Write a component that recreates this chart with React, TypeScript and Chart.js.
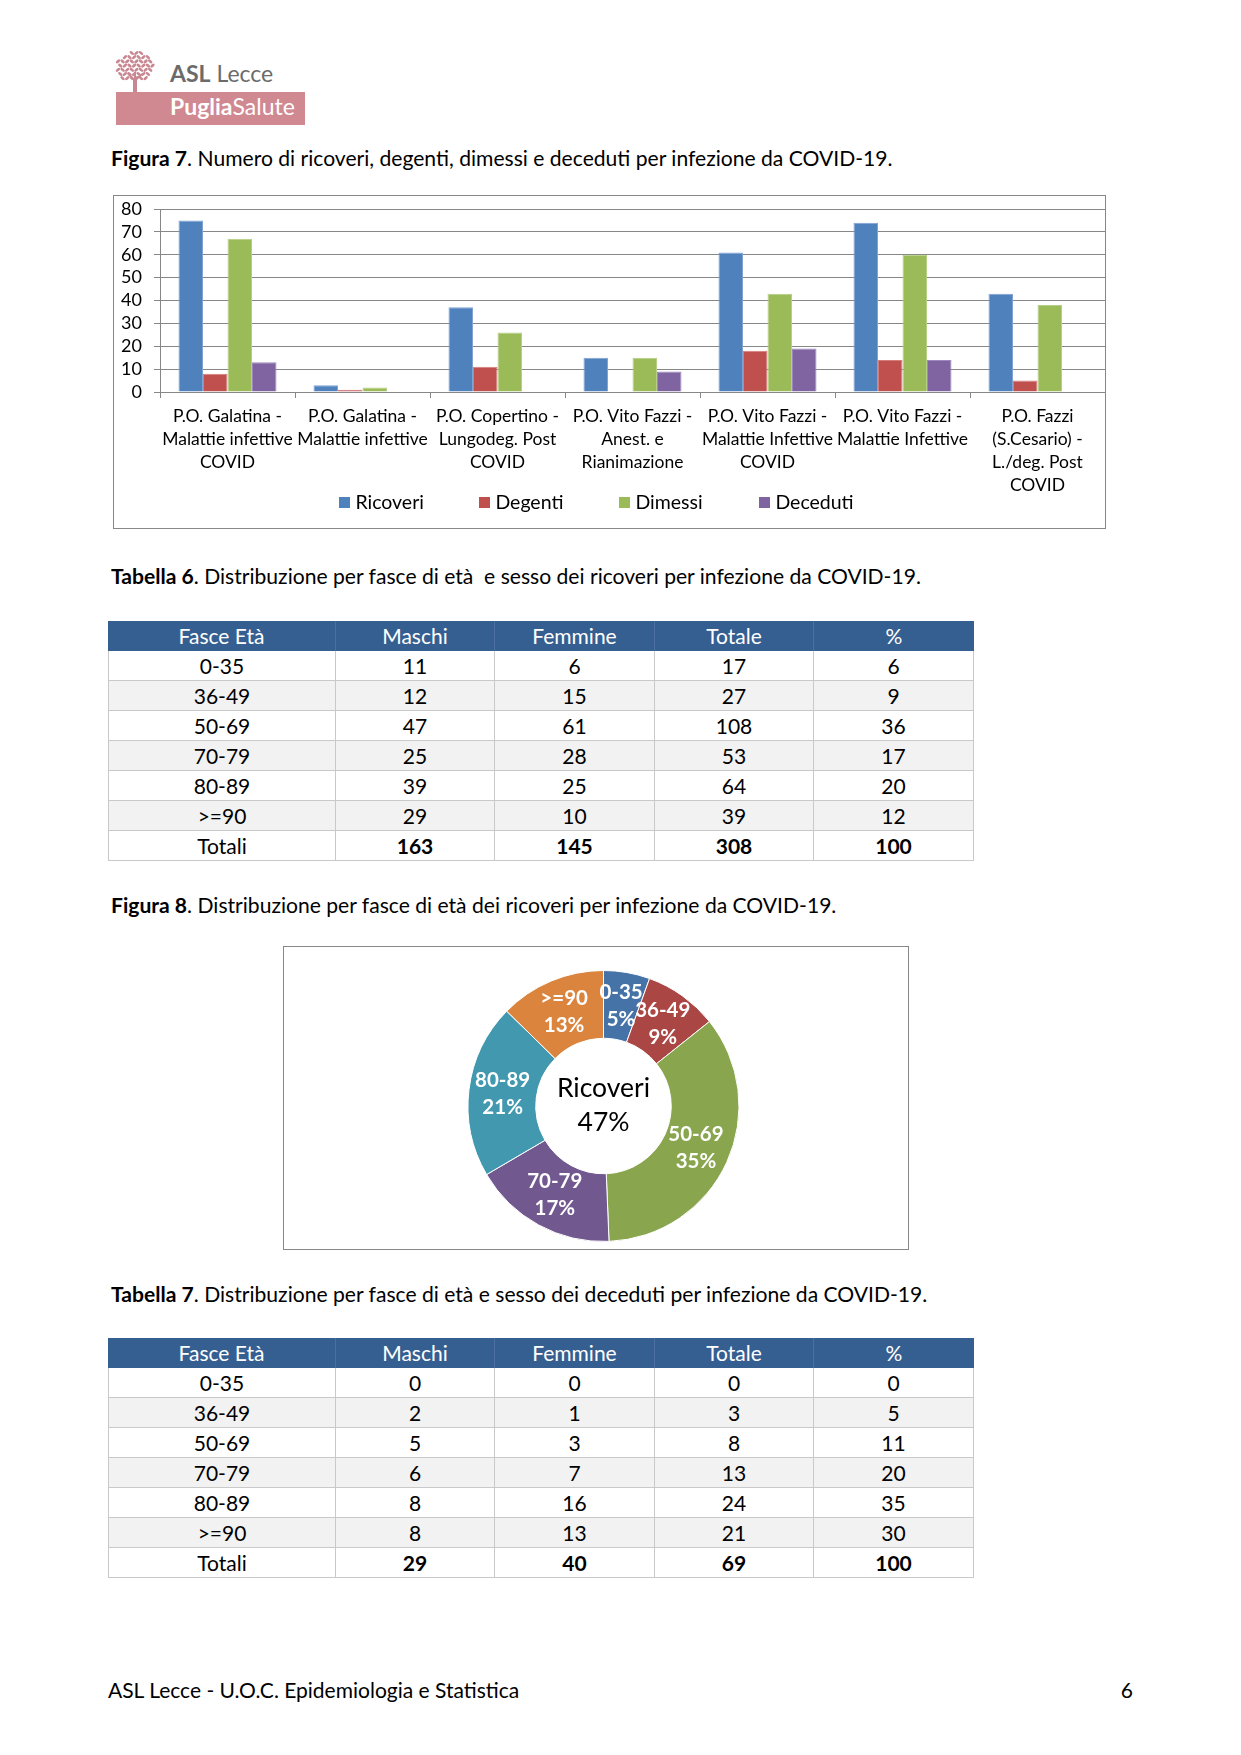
import React, { useEffect, useRef } from "react";
import { Chart, registerables } from "chart.js";

Chart.register(...registerables);

const FONT = "Lato, 'Open Sans', 'DejaVu Sans', sans-serif";

// ---------- Figura 7 data ----------
const barCategories = [
  ["P.O. Galatina -", "Malattie infettive", "COVID"],
  ["P.O. Galatina -", "Malattie infettive"],
  ["P.O. Copertino -", "Lungodeg. Post", "COVID"],
  ["P.O. Vito Fazzi -", "Anest. e", "Rianimazione"],
  ["P.O. Vito Fazzi -", "Malattie Infettive", "COVID"],
  ["P.O. Vito Fazzi -", "Malattie Infettive"],
  ["P.O. Fazzi", "(S.Cesario) -", "L./deg. Post", "COVID"],
];
const seriesNames = ["Ricoveri", "Degenti", "Dimessi", "Deceduti"];
const ricoveri = [75, 3, 37, 15, 61, 74, 43];
const degenti = [8, 1, 11, 0, 18, 14, 5];
const dimessi = [67, 2, 26, 15, 43, 60, 38];
const deceduti = [13, 0, 0, 9, 19, 14, 0];
const yTickValues = [0, 10, 20, 30, 40, 50, 60, 70, 80];

// ---------- Figura 8 data ----------
const ageBands = ["0-35", "36-49", "50-69", "70-79", "80-89", ">=90"];
const ricoveriByAge = [17, 27, 108, 53, 64, 39];
const ricoveriPctLabels = ["5%", "9%", "35%", "17%", "21%", "13%"];
const donutCenterTitle = "Ricoveri";
const donutCenterValue = "47%";

// ---------- Tabella 6 ----------
const tableHeaders = ["Fasce Età", "Maschi", "Femmine", "Totale", "%"];
const t6Maschi = [11, 12, 47, 25, 39, 29];
const t6Femmine = [6, 15, 61, 28, 25, 10];
const t6Totale = [17, 27, 108, 53, 64, 39];
const t6Pct = [6, 9, 36, 17, 20, 12];
const t6Totali = [163, 145, 308, 100];

// ---------- Tabella 7 ----------
const t7Maschi = [0, 2, 5, 6, 8, 8];
const t7Femmine = [0, 1, 3, 7, 16, 13];
const t7Totale = [0, 3, 8, 13, 24, 21];
const t7Pct = [0, 5, 11, 20, 35, 30];
const t7Totali = [29, 40, 69, 100];

const barColors = ["#4F81BD", "#C0504D", "#9BBB59", "#8064A2"];
const barBorders = ["#7FA3D3", "#D47E7C", "#B6CF86", "#9F88BF"];
const donutColors = ["#4572A7", "#AA4643", "#89A54E", "#71588F", "#4198AF", "#DB843D"];
const GRID = "#878787";
const LEGEND_FONT_SIZE = 19.5;

const spacedLegend = {
  id: "spacedLegend",
  afterDraw(chart: any) {
    const ctx = chart.ctx;
    const items = chart.data.datasets.map((ds: any) => ({
      text: ds.label as string,
      color: ds.backgroundColor as string,
    }));
    ctx.save();
    ctx.font = `${LEGEND_FONT_SIZE}px ${FONT}`;
    const box = 11;
    const gap = 5;
    const pitch = 140;
    const lastW = box + gap + ctx.measureText(items[items.length - 1].text).width;
    let x = chart.width / 2 - ((items.length - 1) * pitch + lastW) / 2 + 3;
    const y = chart.height - 27;
    ctx.textBaseline = "middle";
    ctx.textAlign = "left";
    items.forEach((it: any) => {
      ctx.fillStyle = it.color;
      ctx.fillRect(Math.round(x), Math.round(y - box / 2), box, box);
      ctx.fillStyle = "#000";
      ctx.fillText(it.text, x + box + gap, y + 1);
      x += pitch;
    });
    ctx.restore();
  },
};

function BarChart() {
  const ref = useRef<HTMLCanvasElement>(null);
  useEffect(() => {
    const series = [ricoveri, degenti, dimessi, deceduti];
    const chart = new Chart(ref.current!, {
      type: "bar",
      data: {
        labels: barCategories,
        datasets: series.map((d, i) => ({
          label: seriesNames[i],
          data: d,
          backgroundColor: barColors[i],
          borderColor: barBorders[i],
          borderWidth: 1,
          categoryPercentage: 0.726,
          barPercentage: 1,
        })),
      },
      options: {
        animation: false,
        responsive: false,
        maintainAspectRatio: false,
        layout: { padding: { top: 14, right: 1, bottom: 0, left: 0 } },
        plugins: {
          tooltip: { enabled: false },
          legend: { display: false },
        },
        scales: {
          x: {
            grid: {
              offset: true,
              drawOnChartArea: false,
              drawTicks: true,
              tickLength: 6,
              color: GRID,
            },
            border: { color: GRID },
            ticks: {
              font: { family: FONT, size: 17.5, lineHeight: "23px" } as any,
              color: "#000",
              padding: 7,
              autoSkip: false,
              maxRotation: 0,
              minRotation: 0,
            },
            afterFit: (s: any) => {
              s.height = 137;
            },
          },
          y: {
            min: yTickValues[0],
            max: yTickValues[yTickValues.length - 1],
            ticks: {
              padding: 12,
              autoSkip: false,
              font: { family: FONT, size: 18 },
              color: "#000",
            },
            afterBuildTicks: (s: any) => {
              s.ticks = yTickValues.map((v) => ({ value: v }));
            },
            grid: { color: GRID, tickLength: 6 },
            border: { color: GRID },
            afterFit: (s: any) => {
              s.width = 79;
              s.paddingTop = 8;
              s.paddingBottom = 8;
            },
          },
        },
      },
      plugins: [spacedLegend],
    });
    return () => chart.destroy();
  }, []);
  return (
    <canvas
      ref={ref}
      width={1025}
      height={334}
      style={{ position: "absolute", left: 81, top: 195, width: 1025, height: 334 }}
    />
  );
}

function DonutChart() {
  const ref = useRef<HTMLCanvasElement>(null);
  useEffect(() => {
    const labelsPlugin = {
      id: "donutLabels",
      afterDatasetsDraw(chart: any) {
        const ctx = chart.ctx;
        const meta = chart.getDatasetMeta(0);
        ctx.save();
        ctx.textAlign = "center";
        ctx.textBaseline = "middle";
        ctx.fillStyle = "#fff";
        ctx.font = `bold 20.5px ${FONT}`;
        meta.data.forEach((arc: any, i: number) => {
          const p = arc.getCenterPoint();
          ctx.fillText(ageBands[i], p.x, p.y - 13.5);
          ctx.fillText(ricoveriPctLabels[i], p.x, p.y + 13.5);
        });
        const a0 = meta.data[0];
        ctx.fillStyle = "#000";
        ctx.font = `26.5px ${FONT}`;
        ctx.fillText(donutCenterTitle, a0.x, a0.y - 17.5);
        ctx.fillText(donutCenterValue, a0.x, a0.y + 16);
        ctx.restore();
      },
    };
    const chart = new Chart(ref.current!, {
      type: "doughnut",
      data: {
        labels: ageBands,
        datasets: [
          {
            data: ricoveriByAge,
            backgroundColor: donutColors,
            borderColor: "#ffffff",
            borderWidth: 1,
            hoverOffset: 0,
          },
        ],
      },
      options: {
        animation: false,
        responsive: false,
        maintainAspectRatio: false,
        cutout: "50%",
        layout: { padding: { top: 24, bottom: 8, left: 15, right: 0 } },
        plugins: { legend: { display: false }, tooltip: { enabled: false } },
      },
      plugins: [labelsPlugin],
    });
    return () => chart.destroy();
  }, []);
  return (
    <canvas
      ref={ref}
      width={626}
      height={304}
      style={{ position: "absolute", left: 283, top: 946, width: 626, height: 304 }}
    />
  );
}

function Caption({ y, bold, rest }: { y: number; bold: string; rest: string }) {
  return (
    <div
      style={{
        position: "absolute",
        left: 111,
        top: y - 13,
        height: 26,
        lineHeight: "26px",
        fontSize: 21.1,
        whiteSpace: "pre",
        color: "#000",
      }}
    >
      <b>{bold}</b>
      {rest}
    </div>
  );
}

const colWidths = [228, 159, 160, 159, 160];
const BORDER = "#C9C9C9";

function DataTable({
  top,
  maschi,
  femmine,
  totale,
  pct,
  totali,
}: {
  top: number;
  maschi: number[];
  femmine: number[];
  totale: number[];
  pct: number[];
  totali: number[];
}) {
  const rows: { cells: string[]; bold: boolean }[] = ageBands.map((b, i) => ({
    cells: [b, String(maschi[i]), String(femmine[i]), String(totale[i]), String(pct[i])],
    bold: false,
  }));
  rows.push({ cells: ["Totali", ...totali.map(String)], bold: true });
  const left = 108;
  const rowH = 30;
  return (
    <div style={{ position: "absolute", left, top, width: 866 }}>
      <div style={{ display: "flex", height: rowH, background: "#365F91" }}>
        {tableHeaders.map((h, j) => (
          <div
            key={j}
            style={{
              width: colWidths[j],
              boxSizing: "border-box",
              borderRight: j < 4 ? "1px solid #4A6FA0" : "none",
              color: "#fff",
              fontSize: 21,
              lineHeight: rowH + "px",
              textAlign: "center",
            }}
          >
            {h}
          </div>
        ))}
      </div>
      {rows.map((r, i) => (
        <div
          key={i}
          style={{
            display: "flex",
            height: rowH,
            background: i % 2 === 1 ? "#F2F2F2" : "#fff",
            boxSizing: "border-box",
            borderBottom: `1px solid ${BORDER}`,
            borderLeft: `1px solid ${BORDER}`,
          }}
        >
          {r.cells.map((c, j) => (
            <div
              key={j}
              style={{
                width: colWidths[j] - (j === 0 ? 1 : 0),
                boxSizing: "border-box",
                borderRight: `1px solid ${BORDER}`,
                fontSize: 21,
                lineHeight: rowH - 1 + "px",
                textAlign: "center",
                fontWeight: r.bold && j > 0 ? 700 : 400,
                color: "#000",
              }}
            >
              {c}
            </div>
          ))}
        </div>
      ))}
    </div>
  );
}

function Logo() {
  const leaves: React.ReactNode[] = [];
  for (let r = 0; r < 8; r++) {
    for (let c = 0; c < 9; c++) {
      const x = 3 + c * 4.6 + (r % 2) * 2.3;
      const y = 3 + r * 4.2;
      if ((x - 20) ** 2 / 19 ** 2 + (y - 17) ** 2 / 15 ** 2 > 1) continue;
      const ang = (r + c) % 2 ? 40 : -40;
      leaves.push(
        <ellipse
          key={`${r}-${c}`}
          cx={x}
          cy={y}
          rx={2.6}
          ry={1.4}
          transform={`rotate(${ang} ${x} ${y})`}
        />
      );
    }
  }
  return (
    <svg
      width={320}
      height={140}
      style={{ position: "absolute", left: 0, top: 0 }}
      viewBox="0 0 320 140"
    >
      <g transform="translate(115,50)" fill="#C98791">
        {leaves}
        <path d="M18 42 L18 30 L12 24 L13 23 L19 28 L19 22 L21 22 L21 28 L27 23 L28 24 L22 30 L22 42 Z" />
      </g>
      <rect x={116} y={92} width={189} height={33} fill="#D08891" />
      <text x={170} y={82} fontFamily={FONT} fontSize={23} fill="#6B6B6B">
        <tspan fontWeight={700}>ASL</tspan> Lecce
      </text>
      <text x={170} y={115} fontFamily={FONT} fontSize={23} fill="#fff">
        <tspan fontWeight={700}>Puglia</tspan>Salute
      </text>
    </svg>
  );
}

export default function App() {
  return (
    <div
      style={{
        position: "absolute",
        left: 0,
        top: 0,
        width: 1241,
        height: 1755,
        background: "#fff",
        fontFamily: FONT,
        color: "#000",
        overflow: "hidden",
      }}
    >
      <Logo />
      <Caption
        y={158}
        bold="Figura 7"
        rest=". Numero di ricoveri, degenti, dimessi e deceduti per infezione da COVID-19."
      />
      <div
        style={{
          position: "absolute",
          left: 113,
          top: 195,
          width: 993,
          height: 334,
          boxSizing: "border-box",
          border: "1px solid #888",
        }}
      />
      <BarChart />
      <Caption
        y={576}
        bold="Tabella 6"
        rest=". Distribuzione per fasce di età  e sesso dei ricoveri per infezione da COVID-19."
      />
      <DataTable
        top={621}
        maschi={t6Maschi}
        femmine={t6Femmine}
        totale={t6Totale}
        pct={t6Pct}
        totali={t6Totali}
      />
      <Caption
        y={905}
        bold="Figura 8"
        rest=". Distribuzione per fasce di età dei ricoveri per infezione da COVID-19."
      />
      <div
        style={{
          position: "absolute",
          left: 283,
          top: 946,
          width: 626,
          height: 304,
          boxSizing: "border-box",
          border: "1px solid #888",
        }}
      />
      <DonutChart />
      <Caption
        y={1294}
        bold="Tabella 7"
        rest=". Distribuzione per fasce di età e sesso dei deceduti per infezione da COVID-19."
      />
      <DataTable
        top={1338}
        maschi={t7Maschi}
        femmine={t7Femmine}
        totale={t7Totale}
        pct={t7Pct}
        totali={t7Totali}
      />
      <div
        style={{
          position: "absolute",
          left: 108,
          top: 1677,
          lineHeight: "26px",
          fontSize: 21,
          whiteSpace: "pre",
        }}
      >
        ASL Lecce - U.O.C. Epidemiologia e Statistica
      </div>
      <div
        style={{
          position: "absolute",
          left: 1083,
          width: 50,
          top: 1677,
          lineHeight: "26px",
          fontSize: 21,
          textAlign: "right",
        }}
      >
        6
      </div>
    </div>
  );
}
